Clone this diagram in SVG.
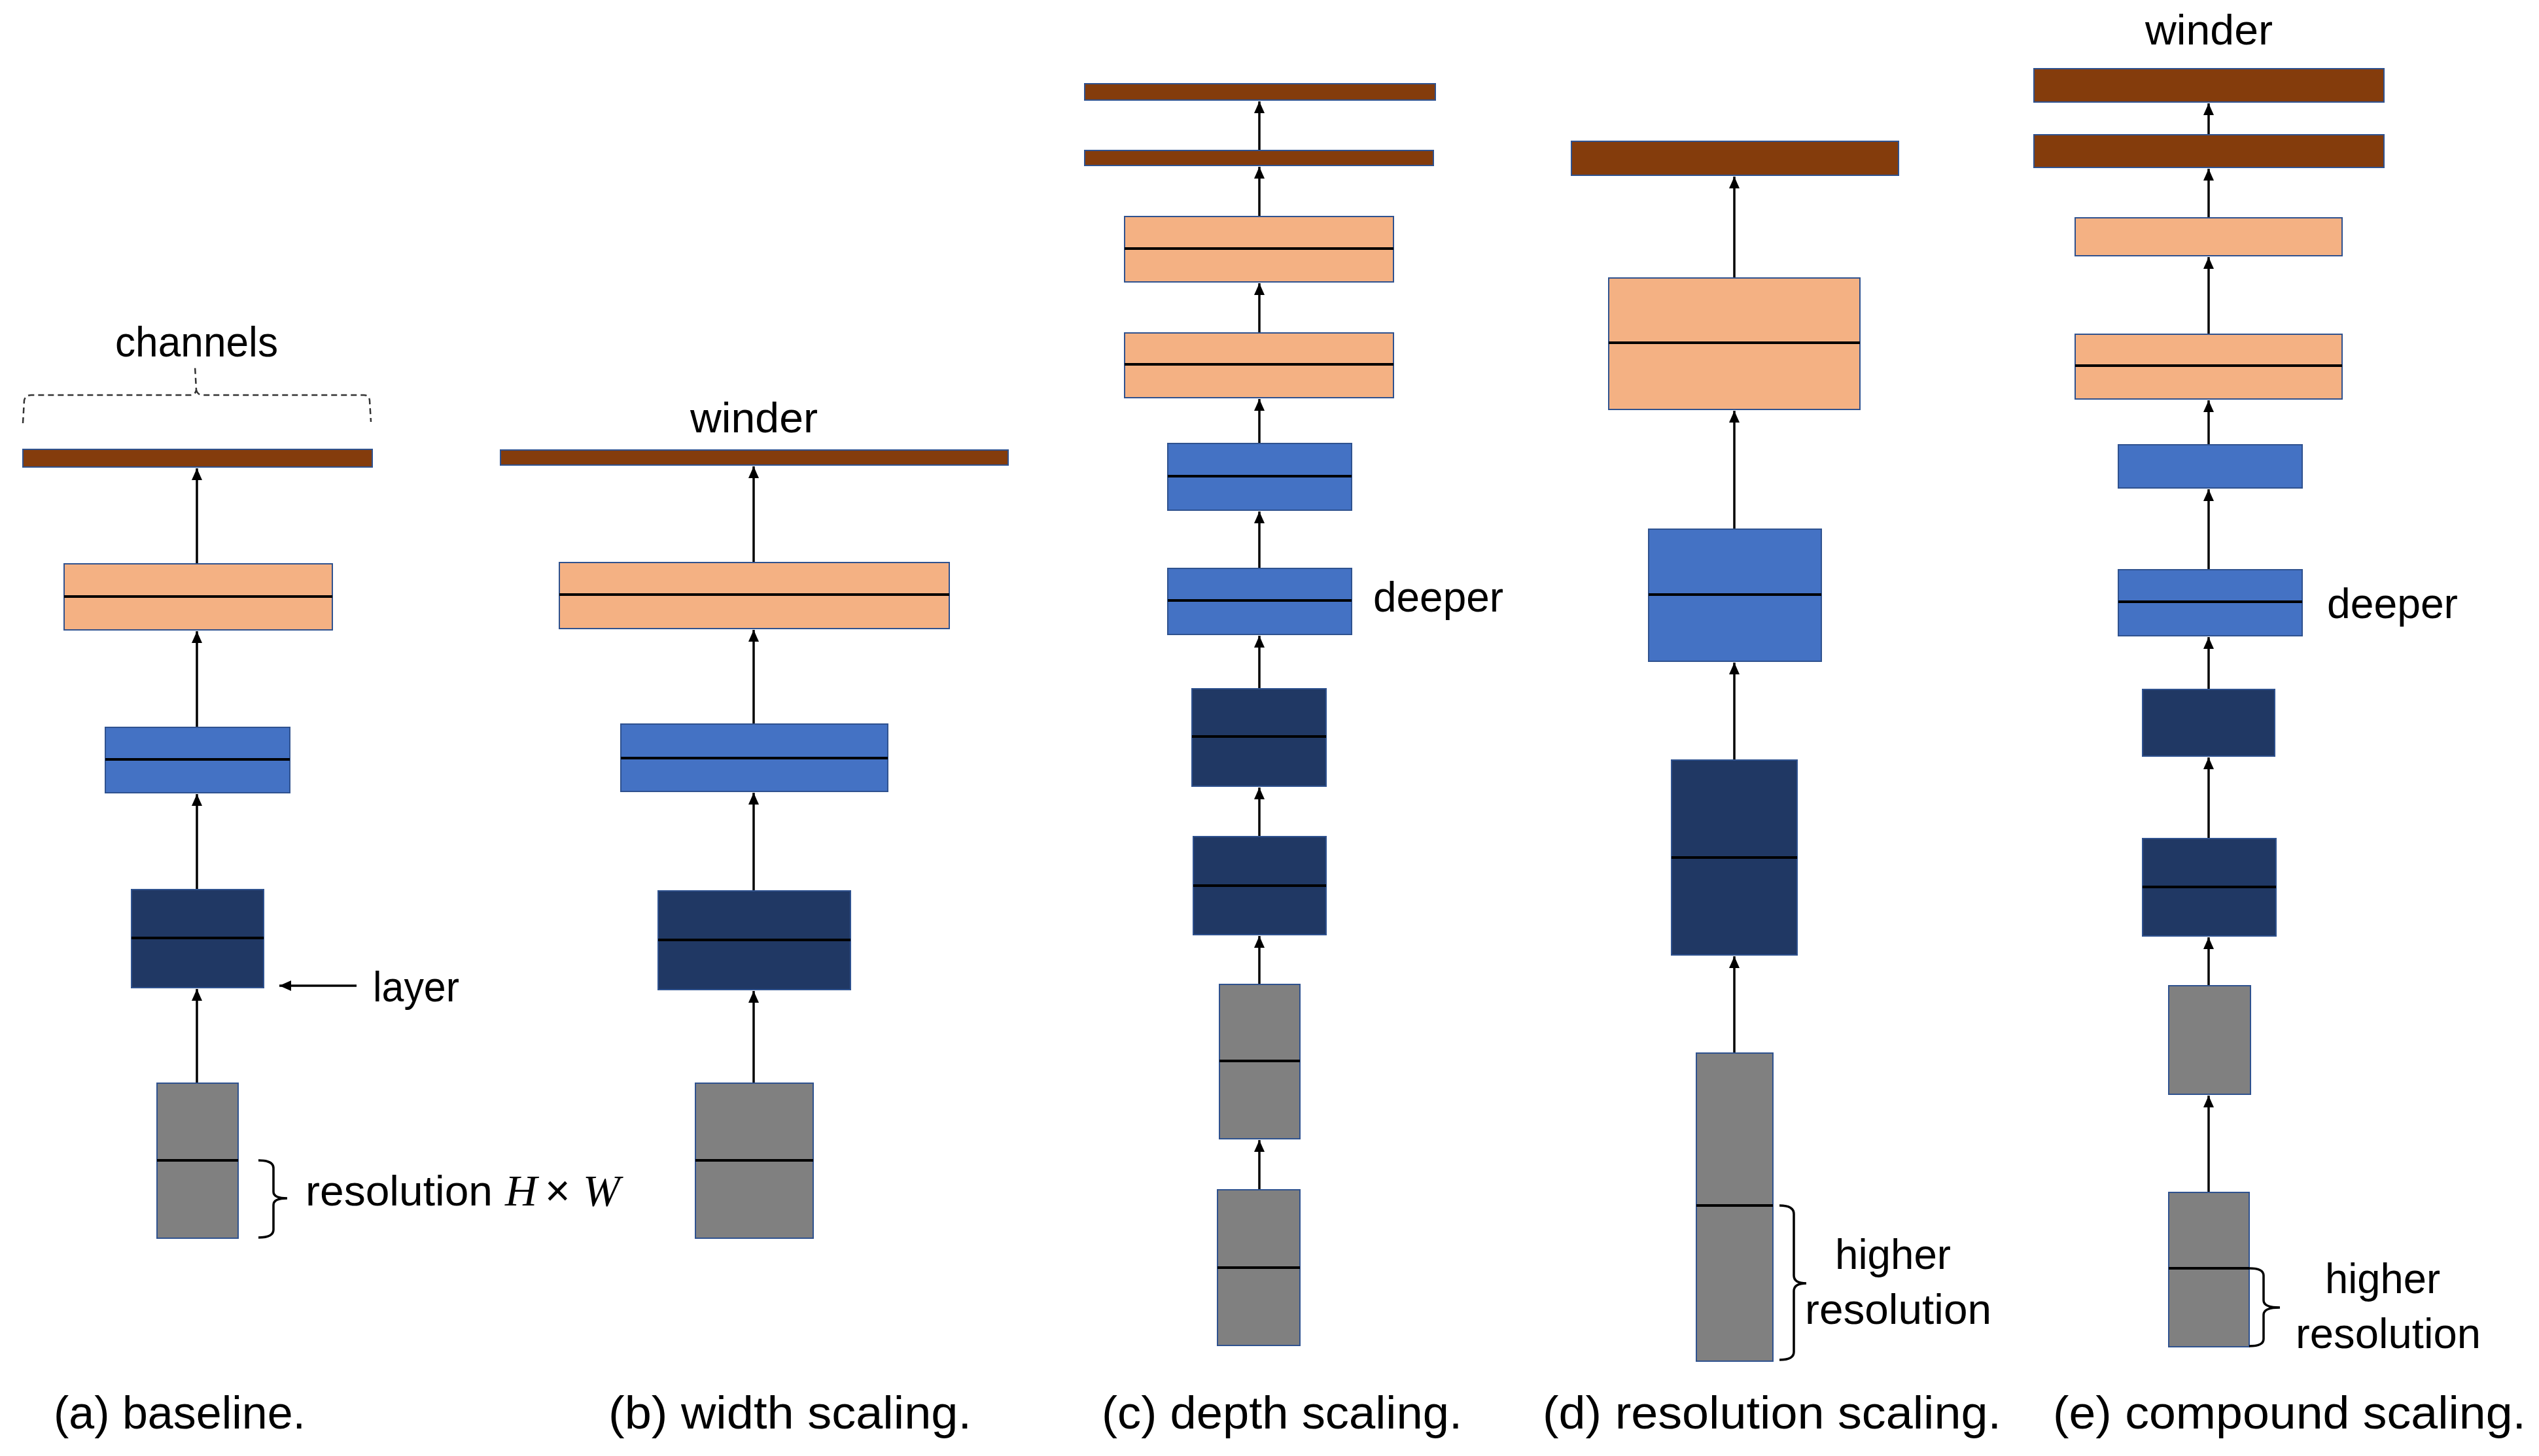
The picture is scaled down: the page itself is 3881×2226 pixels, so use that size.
<svg xmlns="http://www.w3.org/2000/svg" width="3881" height="2226" viewBox="0 0 3881 2226">
<style>
.br{fill:#843C0C;stroke:#2F528F;stroke-width:2}
.or{fill:#F4B183;stroke:#2F528F;stroke-width:2}
.bl{fill:#4472C4;stroke:#2F528F;stroke-width:2}
.nv{fill:#203864;stroke:#2F528F;stroke-width:2}
.gr{fill:#808080;stroke:#2F528F;stroke-width:2}
.mid{stroke:#000;stroke-width:4}
.ar{stroke:#000;stroke-width:3.5;fill:none;marker-end:url(#ah)}
.brace{stroke:#000;stroke-width:3.5;fill:none}
.lbl{font-family:"Liberation Sans",Arial,sans-serif;font-size:64px;fill:#000}
.cap{font-family:"Liberation Sans",Arial,sans-serif;font-size:70px;fill:#000}
.math{font-family:"Liberation Serif","Times New Roman",serif;font-style:italic;font-size:68px;fill:#000}
</style>
<defs>
<marker id="ah" markerUnits="userSpaceOnUse" markerWidth="20" markerHeight="20" viewBox="0 0 20 20" refX="18" refY="10" orient="auto">
<path d="M0,2 L18,10 L0,18 Z" fill="#000"/>
</marker>
</defs>
<rect width="3881" height="2226" fill="#fff"/>

<g id="connectors">
<!-- a -->
<line class="ar" x1="301" y1="1656" x2="301" y2="1512"/>
<line class="ar" x1="301" y1="1360" x2="301" y2="1214"/>
<line class="ar" x1="301" y1="1112" x2="301" y2="965"/>
<line class="ar" x1="301" y1="862" x2="301" y2="716"/>
<line class="ar" x1="545" y1="1507" x2="427" y2="1507"/>
<!-- b -->
<line class="ar" x1="1152" y1="1656" x2="1152" y2="1515"/>
<line class="ar" x1="1152" y1="1362" x2="1152" y2="1212"/>
<line class="ar" x1="1152" y1="1107" x2="1152" y2="963"/>
<line class="ar" x1="1152" y1="860" x2="1152" y2="713"/>
<!-- c -->
<line class="ar" x1="1925" y1="1819" x2="1925" y2="1743"/>
<line class="ar" x1="1925" y1="1505" x2="1925" y2="1431"/>
<line class="ar" x1="1925" y1="1279" x2="1925" y2="1204"/>
<line class="ar" x1="1925" y1="1053" x2="1925" y2="972"/>
<line class="ar" x1="1925" y1="869" x2="1925" y2="782"/>
<line class="ar" x1="1925" y1="678" x2="1925" y2="610"/>
<line class="ar" x1="1925" y1="509" x2="1925" y2="433"/>
<line class="ar" x1="1925" y1="331" x2="1925" y2="255"/>
<line class="ar" x1="1925" y1="230" x2="1925" y2="155"/>
<!-- d -->
<line class="ar" x1="2651" y1="1610" x2="2651" y2="1462"/>
<line class="ar" x1="2651" y1="1162" x2="2651" y2="1013"/>
<line class="ar" x1="2651" y1="809" x2="2651" y2="628"/>
<line class="ar" x1="2651" y1="425" x2="2651" y2="270"/>
<!-- e -->
<line class="ar" x1="3376" y1="1823" x2="3376" y2="1675"/>
<line class="ar" x1="3376" y1="1507" x2="3376" y2="1433"/>
<line class="ar" x1="3376" y1="1282" x2="3376" y2="1158"/>
<line class="ar" x1="3376" y1="1054" x2="3376" y2="974"/>
<line class="ar" x1="3376" y1="871" x2="3376" y2="748"/>
<line class="ar" x1="3376" y1="680" x2="3376" y2="612"/>
<line class="ar" x1="3376" y1="511" x2="3376" y2="393"/>
<line class="ar" x1="3376" y1="333" x2="3376" y2="258"/>
<line class="ar" x1="3376" y1="206" x2="3376" y2="158"/>
</g>

<!-- (a) baseline -->
<g id="a-fc"><rect class="br" x="35" y="687" width="534" height="27"/></g>
<g id="a-orange"><rect class="or" x="98" y="862" width="410" height="101"/><line class="mid" x1="98" y1="912" x2="508" y2="912"/></g>
<g id="a-blue"><rect class="bl" x="161" y="1112" width="282" height="100"/><line class="mid" x1="161" y1="1161" x2="443" y2="1161"/></g>
<g id="a-navy"><rect class="nv" x="201" y="1360" width="202" height="150"/><line class="mid" x1="201" y1="1434" x2="403" y2="1434"/></g>
<g id="a-gray"><rect class="gr" x="240" y="1656" width="124" height="237"/><line class="mid" x1="240" y1="1774" x2="364" y2="1774"/></g>
<g id="a-channels">
<path d="M35,647 L37,612 Q39,604 48,604 L292,604 Q299,603 300,596 L298,560 M300,596 Q302,604 310,604 L556,604 Q564,604 565,612 L567,645" fill="none" stroke="#333" stroke-width="2.5" stroke-dasharray="9 6"/>
<text class="lbl" x="176" y="545" textLength="249" lengthAdjust="spacingAndGlyphs">channels</text>
</g>
<g id="a-layer"><text class="lbl" x="570" y="1531" textLength="132" lengthAdjust="spacingAndGlyphs">layer</text></g>
<g id="a-res">
<path class="brace" d="M395,1774 Q418,1774 418,1786 L418,1822 Q418,1832 439,1832 Q418,1832 418,1842 L418,1880 Q418,1892 395,1892"/>
<text class="lbl" x="467" y="1843" textLength="286" lengthAdjust="spacingAndGlyphs">resolution</text>
<text class="math" x="772" y="1843">H</text>
<text class="lbl" x="833" y="1843" style="font-size:66px">×</text>
<text class="math" x="891" y="1843">W</text>
</g>

<!-- (b) width scaling -->
<g id="b-fc"><rect class="br" x="765" y="688" width="776" height="23"/></g>
<g id="b-orange"><rect class="or" x="855" y="860" width="596" height="101"/><line class="mid" x1="855" y1="909" x2="1451" y2="909"/></g>
<g id="b-blue"><rect class="bl" x="949" y="1107" width="408" height="103"/><line class="mid" x1="949" y1="1159" x2="1357" y2="1159"/></g>
<g id="b-navy"><rect class="nv" x="1006" y="1362" width="294" height="151"/><line class="mid" x1="1006" y1="1437" x2="1300" y2="1437"/></g>
<g id="b-gray"><rect class="gr" x="1063" y="1656" width="180" height="237"/><line class="mid" x1="1063" y1="1774" x2="1243" y2="1774"/></g>
<g id="b-winder"><text class="lbl" x="1055" y="661" textLength="195" lengthAdjust="spacingAndGlyphs">winder</text></g>

<!-- (c) depth scaling -->
<g id="c-fc1"><rect class="br" x="1658" y="128" width="536" height="25"/></g>
<g id="c-fc2"><rect class="br" x="1658" y="230" width="533" height="23"/></g>
<g id="c-orange1"><rect class="or" x="1719" y="331" width="411" height="100"/><line class="mid" x1="1719" y1="380" x2="2130" y2="380"/></g>
<g id="c-orange2"><rect class="or" x="1719" y="509" width="411" height="99"/><line class="mid" x1="1719" y1="557" x2="2130" y2="557"/></g>
<g id="c-blue1"><rect class="bl" x="1785" y="678" width="281" height="102"/><line class="mid" x1="1785" y1="728" x2="2066" y2="728"/></g>
<g id="c-blue2"><rect class="bl" x="1785" y="869" width="281" height="101"/><line class="mid" x1="1785" y1="918" x2="2066" y2="918"/></g>
<g id="c-navy1"><rect class="nv" x="1822" y="1053" width="205" height="149"/><line class="mid" x1="1822" y1="1126" x2="2027" y2="1126"/></g>
<g id="c-navy2"><rect class="nv" x="1824" y="1279" width="203" height="150"/><line class="mid" x1="1824" y1="1354" x2="2027" y2="1354"/></g>
<g id="c-gray1"><rect class="gr" x="1864" y="1505" width="123" height="236"/><line class="mid" x1="1864" y1="1622" x2="1987" y2="1622"/></g>
<g id="c-gray2"><rect class="gr" x="1861" y="1819" width="126" height="238"/><line class="mid" x1="1861" y1="1938" x2="1987" y2="1938"/></g>
<g id="c-deeper"><text class="lbl" x="2099" y="935" textLength="199" lengthAdjust="spacingAndGlyphs">deeper</text></g>

<!-- (d) resolution scaling -->
<g id="d-fc"><rect class="br" x="2402" y="216" width="500" height="52"/></g>
<g id="d-orange"><rect class="or" x="2459" y="425" width="384" height="201"/><line class="mid" x1="2459" y1="524" x2="2843" y2="524"/></g>
<g id="d-blue"><rect class="bl" x="2520" y="809" width="264" height="202"/><line class="mid" x1="2520" y1="909" x2="2784" y2="909"/></g>
<g id="d-navy"><rect class="nv" x="2555" y="1162" width="192" height="298"/><line class="mid" x1="2555" y1="1311" x2="2747" y2="1311"/></g>
<g id="d-gray"><rect class="gr" x="2593" y="1610" width="117" height="471"/><line class="mid" x1="2593" y1="1843" x2="2710" y2="1843"/></g>
<g id="d-res">
<path class="brace" d="M2720,1843 Q2742,1843 2742,1856 L2742,1950 Q2742,1962 2761,1962 Q2742,1962 2742,1974 L2742,2067 Q2742,2079 2720,2079"/>
<text class="lbl" x="2805" y="1940" textLength="177" lengthAdjust="spacingAndGlyphs">higher</text>
<text class="lbl" x="2759" y="2024" textLength="285" lengthAdjust="spacingAndGlyphs">resolution</text>
</g>

<!-- (e) compound scaling -->
<g id="e-winder"><text class="lbl" x="3279" y="68" textLength="195" lengthAdjust="spacingAndGlyphs">winder</text></g>
<g id="e-fc1"><rect class="br" x="3109" y="105" width="535" height="51"/></g>
<g id="e-fc2"><rect class="br" x="3109" y="206" width="535" height="50"/></g>
<g id="e-orange1"><rect class="or" x="3172" y="333" width="408" height="58"/></g>
<g id="e-orange2"><rect class="or" x="3172" y="511" width="408" height="99"/><line class="mid" x1="3172" y1="559" x2="3580" y2="559"/></g>
<g id="e-blue1"><rect class="bl" x="3238" y="680" width="281" height="66"/></g>
<g id="e-blue2"><rect class="bl" x="3238" y="871" width="281" height="101"/><line class="mid" x1="3238" y1="920" x2="3519" y2="920"/></g>
<g id="e-navy1"><rect class="nv" x="3275" y="1054" width="202" height="102"/></g>
<g id="e-navy2"><rect class="nv" x="3275" y="1282" width="204" height="149"/><line class="mid" x1="3275" y1="1356" x2="3479" y2="1356"/></g>
<g id="e-gray1"><rect class="gr" x="3315" y="1507" width="125" height="166"/></g>
<g id="e-gray2"><rect class="gr" x="3315" y="1823" width="123" height="236"/><line class="mid" x1="3315" y1="1939" x2="3438" y2="1939"/></g>
<g id="e-deeper"><text class="lbl" x="3557" y="945" textLength="200" lengthAdjust="spacingAndGlyphs">deeper</text></g>
<g id="e-res">
<path class="brace" d="M3438,1939 Q3460,1939 3460,1950 L3460,1988 Q3460,1999 3485,1999 Q3460,1999 3460,2010 L3460,2047 Q3460,2058 3438,2058"/>
<text class="lbl" x="3554" y="1977" textLength="176" lengthAdjust="spacingAndGlyphs">higher</text>
<text class="lbl" x="3509" y="2061" textLength="283" lengthAdjust="spacingAndGlyphs">resolution</text>
</g>

<g id="captions">
<text class="cap" x="82" y="2184" textLength="385" lengthAdjust="spacingAndGlyphs">(a) baseline.</text>
<text class="cap" x="930" y="2184" textLength="555" lengthAdjust="spacingAndGlyphs">(b) width scaling.</text>
<text class="cap" x="1684" y="2184" textLength="551" lengthAdjust="spacingAndGlyphs">(c) depth scaling.</text>
<text class="cap" x="2358" y="2184" textLength="701" lengthAdjust="spacingAndGlyphs">(d) resolution scaling.</text>
<text class="cap" x="3138" y="2184" textLength="723" lengthAdjust="spacingAndGlyphs">(e) compound scaling.</text>
</g>
</svg>
